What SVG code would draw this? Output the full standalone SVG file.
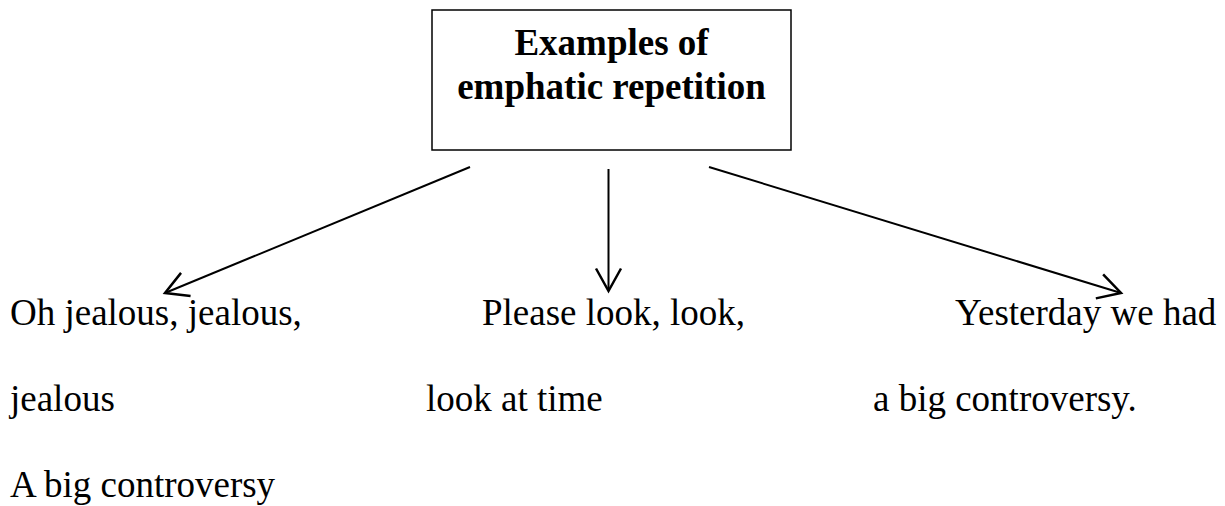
<svg xmlns="http://www.w3.org/2000/svg" width="1225" height="506" viewBox="0 0 1225 506">
  <style>
    .title { font-family: "Liberation Serif", "Times New Roman", serif; font-weight: bold; font-size: 37px; fill: #000; text-anchor: middle; }
    .label { font-family: "Liberation Serif", "Times New Roman", serif; font-size: 37px; fill: #000; }
    .box { fill: #fff; stroke: #000; stroke-width: 1.5; }
    .conn { stroke: #000; stroke-width: 2; fill: none; marker-end: url(#arrow); }
  </style>
  <defs>
    <marker id="arrow" markerUnits="userSpaceOnUse" markerWidth="30" markerHeight="30" viewBox="-20 -12 22 24" refX="0" refY="0" orient="auto">
      <path d="M-18,-10 L0,0 L-18,10" fill="none" stroke="#000" stroke-width="2"/>
    </marker>
  </defs>
  <rect width="1225" height="506" fill="#fff"/>
  <g id="root">
    <rect class="box" x="432" y="10" width="359" height="140"/>
    <text class="title" x="611.5" y="55">Examples of</text>
    <text class="title" x="611.5" y="99">emphatic repetition</text>
  </g>
  <g id="connectors">
    <line class="conn" x1="470" y1="167" x2="165" y2="293"/>
    <line class="conn" x1="608.5" y1="169" x2="608.5" y2="291"/>
    <line class="conn" x1="709" y1="167" x2="1121" y2="293"/>
  </g>
  <g id="node-left">
    <text class="label" x="10" y="325">Oh jealous, jealous,</text>
    <text class="label" x="10" y="411">jealous</text>
    <text class="label" x="10" y="497">A big controversy</text>
  </g>
  <g id="node-middle">
    <text class="label" x="482" y="325">Please look, look,</text>
    <text class="label" x="426" y="411">look at time</text>
  </g>
  <g id="node-right">
    <text class="label" x="955" y="325">Yesterday we had</text>
    <text class="label" x="873" y="411">a big controversy.</text>
  </g>
</svg>
